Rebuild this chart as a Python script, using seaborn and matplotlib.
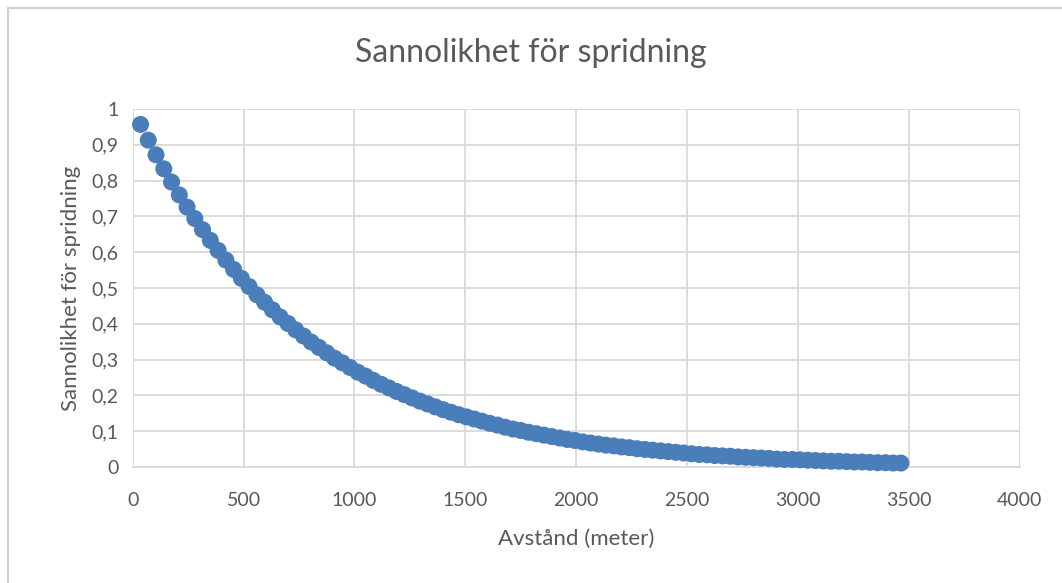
import matplotlib
matplotlib.use("Agg")
import numpy as np
import pandas as pd
import seaborn as sns
import matplotlib.pyplot as plt
from matplotlib.ticker import FuncFormatter, MultipleLocator
from matplotlib.patches import Rectangle

# values
avstand = [35, 70, 105, 140, 175, 210, 245, 280, 315, 350,
           385, 420, 455, 490, 525, 560, 595, 630, 665, 700,
           735, 770, 805, 840, 875, 910, 945, 980, 1015, 1050,
           1085, 1120, 1155, 1190, 1225, 1260, 1295, 1330, 1365, 1400,
           1435, 1470, 1505, 1540, 1575, 1610, 1645, 1680, 1715, 1750,
           1785, 1820, 1855, 1890, 1925, 1960, 1995, 2030, 2065, 2100,
           2135, 2170, 2205, 2240, 2275, 2310, 2345, 2380, 2415, 2450,
           2485, 2520, 2555, 2590, 2625, 2660, 2695, 2730, 2765, 2800,
           2835, 2870, 2905, 2940, 2975, 3010, 3045, 3080, 3115, 3150,
           3185, 3220, 3255, 3290, 3325, 3360, 3395, 3430, 3465]
sannolikhet = [0.957, 0.913, 0.872, 0.833, 0.796, 0.760, 0.726, 0.694, 0.663, 0.633,
               0.605, 0.578, 0.552, 0.527, 0.504, 0.481, 0.460, 0.439, 0.419, 0.401,
               0.383, 0.366, 0.349, 0.334, 0.319, 0.304, 0.291, 0.278, 0.265, 0.254,
               0.242, 0.231, 0.221, 0.211, 0.202, 0.193, 0.184, 0.176, 0.168, 0.160,
               0.153, 0.146, 0.140, 0.134, 0.128, 0.122, 0.117, 0.111, 0.106, 0.102,
               0.097, 0.093, 0.089, 0.085, 0.081, 0.077, 0.074, 0.070, 0.067, 0.064,
               0.061, 0.059, 0.056, 0.054, 0.051, 0.049, 0.047, 0.045, 0.043, 0.041,
               0.039, 0.037, 0.035, 0.034, 0.032, 0.031, 0.030, 0.028, 0.027, 0.026,
               0.025, 0.024, 0.022, 0.021, 0.021, 0.020, 0.019, 0.018, 0.017, 0.016,
               0.016, 0.015, 0.014, 0.014, 0.013, 0.012, 0.012, 0.011, 0.011]

df = pd.DataFrame({"Avstånd (meter)": avstand, "Sannolikhet för spridning": sannolikhet})

sns.set_style("white")
plt.rcParams["font.family"] = ["Lato", "DejaVu Sans"]
text_col = "#595959"
grid_col = "#d9d9d9"


def comma_fmt(v, pos):
    if abs(v - round(v)) < 1e-9:
        return "%d" % round(v)
    return ("%.1f" % v).replace(".", ",")


fig = plt.figure(figsize=(10.62, 5.83), dpi=100)
ax = fig.add_axes([0.125, 0.199, 0.835, 0.614])

sns.scatterplot(data=df, x="Avstånd (meter)", y="Sannolikhet för spridning", ax=ax,
                color="#4a7ebb", s=150, edgecolor="none", zorder=3, clip_on=False)

ax.set_xlim(0, 4000)
ax.set_ylim(0, 1)
ax.xaxis.set_major_locator(MultipleLocator(500))
ax.yaxis.set_major_locator(MultipleLocator(0.1))
ax.yaxis.set_major_formatter(FuncFormatter(comma_fmt))

ax.grid(True, color=grid_col, linewidth=1.3)
ax.set_axisbelow(True)
for side in ["top", "right", "left"]:
    ax.spines[side].set_visible(False)
ax.spines["bottom"].set_color(grid_col)
ax.spines["bottom"].set_linewidth(1.3)
ax.tick_params(axis="x", length=0, labelsize=14, colors=text_col, pad=18)
ax.tick_params(axis="y", length=0, labelsize=14, colors=text_col, pad=10)

ax.set_xlabel("Avstånd (meter)", fontsize=16, color=text_col, labelpad=14)
ax.set_ylabel("Sannolikhet för spridning", fontsize=16, color=text_col, labelpad=8)
fig.suptitle("Sannolikhet för spridning", fontsize=23, color=text_col, y=0.935)

fig.patches.append(Rectangle((0.008, -0.05), 1.1, 1.036, transform=fig.transFigure,
                             fill=False, edgecolor="#d0d0d0", linewidth=1.5))

fig.savefig("out.png", dpi=100)
